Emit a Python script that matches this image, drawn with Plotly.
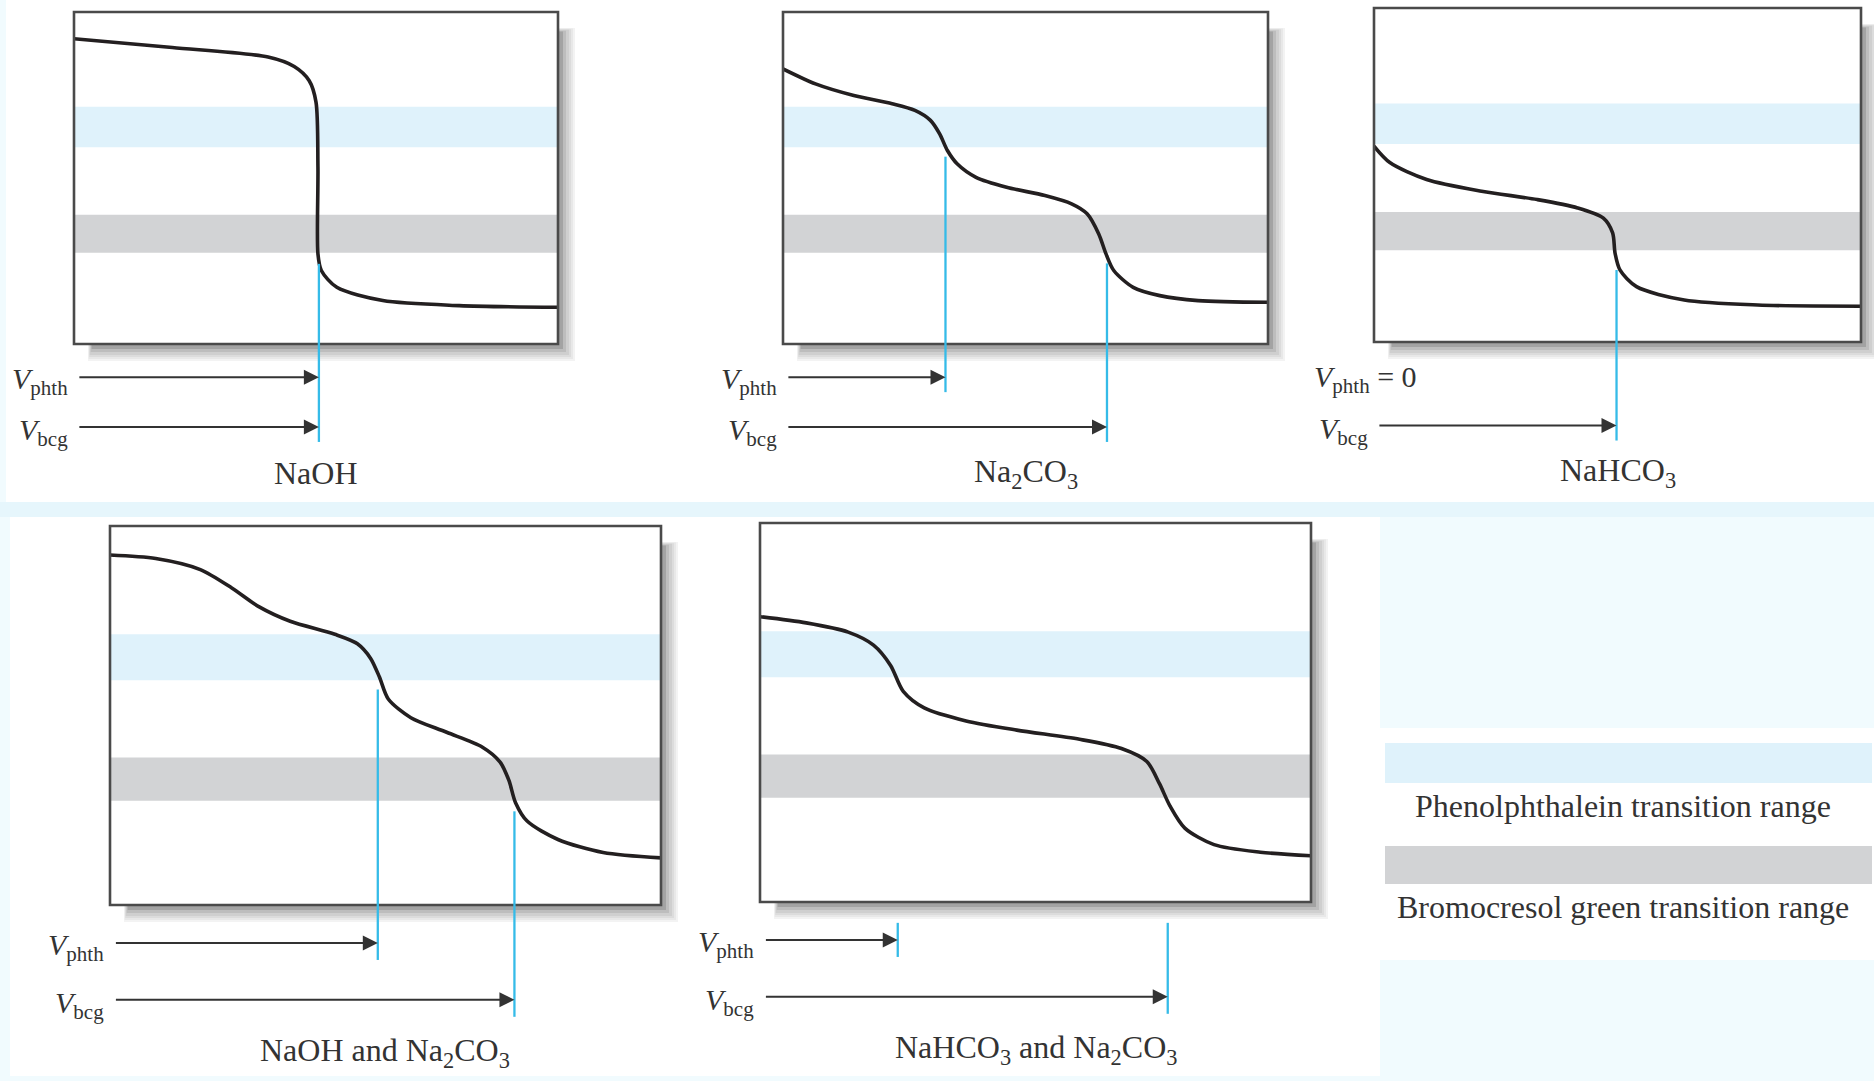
import plotly.graph_objects as go

W, H = 1874, 1081

# ---------------- data (volume 0-100 %, pH 0-14) ----------------
naoh_vol = [0, 20.3, 40.1, 45.5, 48.6, 50.0, 50.4, 50.4, 51.1, 54.3, 63.8, 79.6, 100]
naoh_ph = [12.87, 12.5, 12.1, 11.7, 11.1, 10.2, 7.46, 3.8, 3.1, 2.39, 1.83, 1.62, 1.55]

na2co3_vol = [0, 6.7, 14.6, 22.5, 27.2, 30.4, 32.3, 33.9, 35.9, 39.8, 46.1, 54.0, 59.5, 62.7,
              65.1, 66.6, 68.2, 72.2, 77.7, 85.6, 100]
na2co3_ph = [11.6, 10.97, 10.48, 10.13, 9.85, 9.43, 8.86, 8.16, 7.6, 7.03, 6.61, 6.26, 5.91, 5.49,
             4.64, 3.8, 3.1, 2.39, 2.04, 1.83, 1.76]

nahco3_vol = [0, 3.25, 10.8, 22.1, 33.5, 41.8, 47.1, 49.0, 49.5, 50.5, 53.9, 63.7, 78.8, 100]
nahco3_ph = [8.21, 7.52, 6.81, 6.32, 5.97, 5.62, 5.19, 4.57, 3.72, 3.02, 2.32, 1.76, 1.55, 1.5]

mix1_vol = [0, 8.3, 16.4, 22.1, 27.0, 32.7, 40.8, 44.9, 47.3, 48.9, 50.5, 54.6, 61.1, 67.6,
            70.8, 72.4, 73.6, 75.7, 81.3, 89.5, 100]
mix1_ph = [12.93, 12.8, 12.39, 11.71, 11.02, 10.48, 10.0, 9.65, 9.11, 8.42, 7.61, 6.92, 6.38, 5.83,
           5.28, 4.6, 3.78, 3.1, 2.42, 1.94, 1.74]

mix2_vol = [0, 8.4, 16.0, 20.6, 23.7, 26.0, 29.8, 37.4, 46.6, 58.0, 65.6, 70.2, 72.5, 74.4,
            77.1, 82.4, 90.8, 100]
mix2_ph = [10.54, 10.31, 9.97, 9.49, 8.74, 7.78, 7.17, 6.69, 6.35, 6.01, 5.67, 5.19, 4.37, 3.55,
           2.73, 2.12, 1.84, 1.71]

titles = ["NaOH", "Na<sub>2</sub>CO<sub>3</sub>", "NaHCO<sub>3</sub>",
          "NaOH and Na<sub>2</sub>CO<sub>3</sub>", "NaHCO<sub>3</sub> and Na<sub>2</sub>CO<sub>3</sub>"]
v_phth = [50.6, 33.5, 0.0, 48.6, 25.0]          # phenolphthalein end point volume
v_bcg = [50.6, 66.8, 49.8, 73.4, 74.0]          # bromocresol green end point volume
ph_phth_mark = [None, 7.9, None, 7.96, None]     # where the cyan marker meets the curve
ph_bcg_mark = [3.38, 3.4, 3.02, 3.46, None]

phth_band = (8.3, 10.0)
bcg_band = (3.85, 5.45)
legend_labels = ["Phenolphthalein transition range", "Bromocresol green transition range"]

curves = [(naoh_vol, naoh_ph), (na2co3_vol, na2co3_ph), (nahco3_vol, nahco3_ph),
          (mix1_vol, mix1_ph), (mix2_vol, mix2_ph)]

# ---------------- layout geometry (pixels) ----------------
boxes = [(74, 558, 12, 344), (783, 1268, 12, 344), (1374, 1861, 8, 342),
         (110, 661, 526, 905), (760, 1311, 523, 902)]

C_BLUE_BAND = "#dff2fb"
C_GRAY_BAND = "#d2d3d5"
C_MARK = "#35bbe8"
C_CURVE = "#231f20"
C_BORDER = "#4a4a4a"
C_TEXT = "#333333"
C_TINT = "#f1fbfe"
C_STRIP = "#e6f6fc"
FONT = "Liberation Serif"


def px(x):
    return x / W


def py(y):
    return 1 - y / H


fig = go.Figure()
shapes = []
annotations = []

# background tints / white areas (paper)
shapes.append(dict(type="rect", xref="paper", yref="paper", x0=0, x1=1, y0=0, y1=1,
                   fillcolor=C_TINT, line_width=0, layer="below"))
shapes.append(dict(type="rect", xref="paper", yref="paper", x0=0, x1=1, y0=py(517), y1=py(502),
                   fillcolor=C_STRIP, line_width=0, layer="below"))
for (x0, x1, y0, y1) in [(6, 1874, 0, 502), (10, 1380, 517, 1076), (1380, 1874, 728, 960)]:
    shapes.append(dict(type="rect", xref="paper", yref="paper", x0=px(x0), x1=px(x1),
                       y0=py(y1), y1=py(y0), fillcolor="white", line_width=0, layer="below"))

# soft shadow layers: (pixel offset of right/bottom edge, colour), outermost first
shadow_layers = [(17, "#f3f3f3"), (15, "#e8e8e8"), (13, "#dcdcdc"), (11, "#cfcfcf"),
                 (8, "#bdbdbd"), (5, "#a3a3a3")]

layout_axes = {}
for i, (bx0, bx1, by0, by1) in enumerate(boxes):
    n = "" if i == 0 else str(i + 1)
    xa, ya = "x" + n, "y" + n
    layout_axes["xaxis" + n] = dict(domain=[px(bx0), px(bx1)], range=[0, 100], visible=False,
                                    anchor=ya, fixedrange=True)
    layout_axes["yaxis" + n] = dict(domain=[py(by1), py(by0)], range=[0, 14], visible=False,
                                    anchor=xa, fixedrange=True)
    xd, yd = xa + " domain", ya + " domain"
    bw, bh = bx1 - bx0, by1 - by0

    # soft shadow
    for (off, col) in shadow_layers:
        shapes.append(dict(type="rect", xref=xd, yref=yd,
                           x0=(14 + (17 - off) * 0.3) / bw, x1=1 + off / bw,
                           y0=-off / bh, y1=1 - (16 + (17 - off) * 0.3) / bh,
                           fillcolor=col, line_width=0, layer="below"))
    # white plot area
    shapes.append(dict(type="rect", xref=xd, yref=yd, x0=0, x1=1, y0=0, y1=1,
                       fillcolor="white", line_width=0, layer="below"))
    # indicator bands
    shapes.append(dict(type="rect", xref=xd, yref=ya, x0=0, x1=1, y0=phth_band[0], y1=phth_band[1],
                       fillcolor=C_BLUE_BAND, line_width=0, layer="below"))
    shapes.append(dict(type="rect", xref=xd, yref=ya, x0=0, x1=1, y0=bcg_band[0], y1=bcg_band[1],
                       fillcolor=C_GRAY_BAND, line_width=0, layer="below"))
    # border
    shapes.append(dict(type="rect", xref=xd, yref=yd, x0=0, x1=1, y0=0, y1=1,
                       line=dict(color=C_BORDER, width=2.6), fillcolor="rgba(0,0,0,0)", layer="above"))

    # curve
    vx, vy = curves[i]
    fig.add_trace(go.Scatter(x=vx, y=vy, xaxis=xa, yaxis=ya, mode="lines",
                             line=dict(color=C_CURVE, width=3.6, shape="spline", smoothing=0.8),
                             hoverinfo="skip", showlegend=False))

    # end-point markers (cyan lines)
    marks = []
    if v_phth[i] > 0 and abs(v_phth[i] - v_bcg[i]) > 0.01:
        marks.append((v_phth[i], ph_phth_mark[i], -0.145))
    marks.append((v_bcg[i], ph_bcg_mark[i], -0.295))
    for (vol, ph, bottom) in marks:
        if ph is not None:
            shapes.append(dict(type="line", xref=xa, yref=ya, x0=vol, x1=vol, y0=0, y1=ph,
                               line=dict(color=C_MARK, width=2.3), layer="above"))
            top = 0
        else:
            top = -0.055
        shapes.append(dict(type="line", xref=xa, yref=yd, x0=vol, x1=vol, y0=top, y1=bottom,
                           line=dict(color=C_MARK, width=2.3), layer="above"))

    # arrows
    arrow_rows = [(v_phth[i], -0.10), (v_bcg[i], -0.25)]
    for (vol, yy) in arrow_rows:
        if vol <= 0:
            continue
        annotations.append(dict(x=vol, y=yy, xref=xa, yref=yd, text="", showarrow=True,
                                ax=0.8, axref=xa, ay=0, ayref="pixel", arrowhead=2,
                                arrowsize=1.5, arrowwidth=2, arrowcolor=C_TEXT, standoff=0))

    # V labels
    if v_phth[i] > 0:
        annotations.append(dict(x=0, y=-0.11, xref=xd, yref=yd, xanchor="right", yanchor="middle",
                                xshift=-4, text="<i>V</i><sub>phth</sub>", showarrow=False,
                                font=dict(family=FONT, size=30, color=C_TEXT)))
    else:
        annotations.append(dict(x=0, y=-0.11, xref=xd, yref=yd, xanchor="left", yanchor="middle",
                                xshift=-62, text="<i>V</i><sub>phth</sub> = 0", showarrow=False,
                                font=dict(family=FONT, size=30, color=C_TEXT)))
    annotations.append(dict(x=0, y=-0.265, xref=xd, yref=yd, xanchor="right", yanchor="middle",
                            xshift=-4, text="<i>V</i><sub>bcg</sub>", showarrow=False,
                            font=dict(family=FONT, size=30, color=C_TEXT)))
    # titles
    annotations.append(dict(x=0.5, y=-0.39, xref=xd, yref=yd, xanchor="center", yanchor="middle",
                            text=titles[i], showarrow=False,
                            font=dict(family=FONT, size=32, color=C_TEXT)))

# legend swatches
legend_rows = [(743, 783, 806, C_BLUE_BAND), (846, 884, 907, C_GRAY_BAND)]
for (label, (r0, r1, ty, col)) in zip(legend_labels, legend_rows):
    shapes.append(dict(type="rect", xref="paper", yref="paper", x0=px(1385), x1=px(1872),
                       y0=py(r1), y1=py(r0), fillcolor=col, line_width=0, layer="below"))
    annotations.append(dict(x=px(1623), y=py(ty), xref="paper", yref="paper", xanchor="center",
                            yanchor="middle", text=label, showarrow=False,
                            font=dict(family=FONT, size=32, color=C_TEXT)))

fig.update_layout(width=W, height=H, margin=dict(l=0, r=0, t=0, b=0),
                  paper_bgcolor="white", plot_bgcolor="rgba(0,0,0,0)",
                  shapes=shapes, annotations=annotations, showlegend=False, **layout_axes)

fig.write_html("out.html", config={"displayModeBar": False})
